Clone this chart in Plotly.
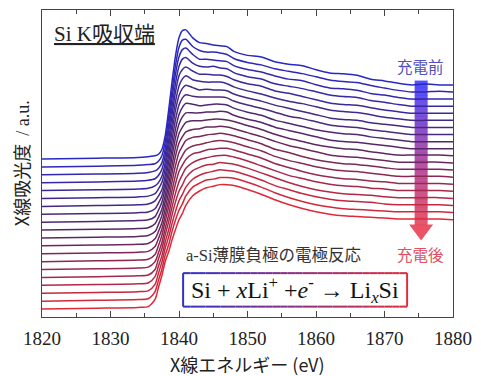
import plotly.graph_objects as go

# ---------------- data ----------------
ENERGY = [1820, 1828, 1834, 1835.5, 1836.5, 1837, 1837.5, 1838, 1838.5, 1839, 1839.5,
          1840, 1840.5, 1841, 1842, 1843, 1844, 1845, 1846, 1847, 1848, 1850, 1852,
          1854, 1856, 1858, 1860, 1862, 1864, 1866, 1868, 1870, 1872, 1874, 1876,
          1878, 1880]

# normalized absorbance of each spectrum, top (before charge) to bottom (after charge)
S00 = [0.00,0.01,0.02,0.03,0.04,0.06,0.12,0.30,0.62,0.98,1.30,1.52,1.61,1.62,1.52,1.46,1.45,1.43,1.42,1.41,1.35,1.30,1.28,1.22,1.19,1.17,1.12,1.08,1.07,1.05,1.00,0.98,0.95,0.93,0.94,0.93,0.93]
S01 = [0.00,0.01,0.02,0.03,0.04,0.07,0.14,0.32,0.63,0.97,1.28,1.50,1.59,1.60,1.51,1.46,1.44,1.44,1.43,1.41,1.36,1.31,1.28,1.23,1.20,1.17,1.13,1.09,1.07,1.06,1.02,0.99,0.96,0.94,0.94,0.95,0.94]
S02 = [0.00,0.01,0.02,0.03,0.05,0.08,0.15,0.33,0.63,0.97,1.27,1.48,1.57,1.59,1.51,1.45,1.45,1.44,1.43,1.42,1.37,1.32,1.29,1.24,1.20,1.18,1.13,1.09,1.08,1.06,1.02,1.00,0.97,0.95,0.95,0.95,0.95]
S03 = [0.00,0.01,0.02,0.03,0.05,0.09,0.17,0.35,0.64,0.96,1.25,1.46,1.55,1.57,1.50,1.46,1.45,1.46,1.44,1.43,1.38,1.33,1.30,1.24,1.21,1.18,1.14,1.10,1.08,1.07,1.03,1.01,0.98,0.96,0.96,0.96,0.96]
S04 = [0.00,0.01,0.02,0.03,0.06,0.10,0.18,0.36,0.64,0.96,1.24,1.44,1.52,1.55,1.50,1.46,1.46,1.45,1.45,1.43,1.39,1.34,1.31,1.25,1.22,1.18,1.14,1.10,1.08,1.07,1.04,1.01,0.99,0.97,0.97,0.97,0.97]
S05 = [0.00,0.01,0.02,0.03,0.06,0.12,0.20,0.38,0.65,0.95,1.22,1.41,1.50,1.54,1.49,1.47,1.46,1.46,1.46,1.44,1.40,1.35,1.31,1.26,1.22,1.19,1.15,1.11,1.09,1.08,1.05,1.02,1.00,0.98,0.98,0.98,0.98]
S06 = [0.00,0.01,0.02,0.03,0.07,0.13,0.21,0.39,0.65,0.95,1.21,1.39,1.48,1.52,1.49,1.46,1.47,1.46,1.46,1.45,1.41,1.36,1.32,1.27,1.23,1.19,1.15,1.11,1.09,1.08,1.05,1.03,1.01,0.99,0.99,0.99,0.99]
S07 = [0.00,0.01,0.02,0.03,0.07,0.14,0.23,0.41,0.66,0.94,1.19,1.37,1.46,1.50,1.48,1.47,1.47,1.47,1.47,1.46,1.42,1.37,1.33,1.28,1.23,1.20,1.16,1.12,1.10,1.09,1.06,1.04,1.02,1.00,1.00,1.00,1.00]
S08 = [0.00,0.01,0.02,0.03,0.07,0.15,0.25,0.43,0.66,0.93,1.17,1.35,1.44,1.49,1.48,1.46,1.47,1.48,1.48,1.47,1.43,1.38,1.34,1.28,1.24,1.20,1.16,1.13,1.11,1.10,1.07,1.05,1.03,1.01,1.01,1.01,1.01]
S09 = [0.00,0.01,0.02,0.03,0.08,0.16,0.26,0.44,0.67,0.93,1.16,1.33,1.42,1.47,1.47,1.47,1.48,1.48,1.49,1.48,1.44,1.39,1.35,1.29,1.25,1.21,1.17,1.13,1.11,1.10,1.08,1.06,1.04,1.02,1.02,1.02,1.02]
S10 = [0.00,0.01,0.02,0.03,0.08,0.17,0.28,0.46,0.67,0.92,1.14,1.31,1.39,1.45,1.47,1.47,1.48,1.49,1.49,1.48,1.46,1.41,1.36,1.30,1.25,1.21,1.17,1.14,1.12,1.11,1.08,1.06,1.04,1.04,1.04,1.04,1.03]
S11 = [0.00,0.01,0.02,0.03,0.09,0.18,0.29,0.47,0.68,0.92,1.13,1.29,1.37,1.43,1.46,1.47,1.49,1.49,1.50,1.49,1.47,1.42,1.37,1.31,1.26,1.22,1.18,1.14,1.12,1.11,1.09,1.07,1.05,1.05,1.05,1.05,1.04]
S12 = [0.00,0.01,0.02,0.03,0.09,0.19,0.31,0.49,0.68,0.91,1.11,1.27,1.35,1.42,1.46,1.47,1.49,1.50,1.51,1.50,1.48,1.43,1.38,1.31,1.27,1.22,1.18,1.15,1.13,1.12,1.10,1.08,1.06,1.06,1.06,1.06,1.05]
S13 = [0.00,0.01,0.02,0.03,0.09,0.20,0.33,0.51,0.69,0.90,1.09,1.25,1.33,1.40,1.45,1.47,1.49,1.51,1.52,1.51,1.49,1.44,1.39,1.32,1.27,1.23,1.19,1.16,1.14,1.13,1.11,1.09,1.07,1.07,1.07,1.07,1.06]
S14 = [0.00,0.01,0.02,0.03,0.10,0.21,0.34,0.52,0.69,0.90,1.08,1.23,1.31,1.38,1.45,1.47,1.50,1.51,1.52,1.52,1.50,1.45,1.40,1.33,1.28,1.23,1.19,1.16,1.14,1.13,1.11,1.10,1.08,1.08,1.08,1.08,1.07]
S15 = [0.00,0.01,0.02,0.03,0.10,0.23,0.36,0.54,0.70,0.89,1.06,1.20,1.29,1.37,1.44,1.48,1.50,1.52,1.53,1.53,1.51,1.46,1.40,1.34,1.28,1.24,1.20,1.17,1.15,1.14,1.12,1.11,1.09,1.09,1.09,1.09,1.08]
S16 = [0.00,0.01,0.02,0.03,0.11,0.24,0.37,0.55,0.70,0.89,1.05,1.18,1.26,1.35,1.44,1.48,1.51,1.52,1.54,1.53,1.52,1.47,1.41,1.35,1.29,1.24,1.20,1.17,1.15,1.14,1.13,1.11,1.10,1.10,1.10,1.10,1.09]
S17 = [0.00,0.01,0.02,0.03,0.11,0.25,0.39,0.57,0.71,0.88,1.03,1.16,1.24,1.33,1.43,1.48,1.51,1.53,1.55,1.54,1.53,1.48,1.42,1.35,1.30,1.25,1.21,1.18,1.16,1.15,1.14,1.12,1.11,1.11,1.11,1.11,1.10]
S18 = [0.00,0.01,0.02,0.03,0.12,0.26,0.40,0.58,0.71,0.88,1.02,1.14,1.22,1.32,1.43,1.48,1.52,1.53,1.55,1.55,1.54,1.49,1.43,1.36,1.30,1.25,1.21,1.18,1.16,1.15,1.14,1.13,1.12,1.12,1.12,1.12,1.11]
S19 = [0.00,0.01,0.02,0.03,0.12,0.27,0.42,0.60,0.72,0.87,1.00,1.12,1.20,1.30,1.42,1.48,1.52,1.54,1.56,1.56,1.55,1.50,1.44,1.37,1.31,1.26,1.22,1.19,1.17,1.16,1.15,1.14,1.13,1.13,1.13,1.13,1.12]

SPECTRA = [S00, S01, S02, S03, S04, S05, S06, S07, S08, S09,
           S10, S11, S12, S13, S14, S15, S16, S17, S18, S19]

X_TICKS = [1820, 1830, 1840, 1850, 1860, 1870, 1880]
X_TITLE = "X線エネルギー (eV)"
Y_TITLE = "X線吸光度  <span style='font-family:Liberation Serif'>/ a.u.</span>"
EDGE_LABEL = "Si K吸収端"
BEFORE_LABEL = "充電前"
AFTER_LABEL = "充電後"
REACTION_LABEL = "a-Si薄膜負極の電極反応"
EQUATION = "Si + <i>x</i>Li<sup>+</sup> +<i>e</i><sup>-</sup> → Li<sub><i>x</i></sub>Si"

# ---------------- styling ----------------
OFFSET_STEP = 0.099
N = len(SPECTRA)


def lerp(c1, c2, f):
    return tuple(round(a + (b - a) * f) for a, b in zip(c1, c2))


def grad3(f, c_top, c_mid, c_bot):
    if f <= 0.5:
        return lerp(c_top, c_mid, f / 0.5)
    return lerp(c_mid, c_bot, (f - 0.5) / 0.5)


BLUE = (40, 40, 195)
MID = (85, 40, 100)
RED = (225, 40, 55)

fig = go.Figure()
for i, vals in enumerate(SPECTRA):
    off = (N - 1 - i) * OFFSET_STEP
    c = grad3(i / (N - 1), BLUE, MID, RED)
    fig.add_trace(go.Scatter(
        x=ENERGY, y=[v + off for v in vals], mode="lines",
        line=dict(color="rgb(%d,%d,%d)" % c, width=1.5, shape="spline", smoothing=0.7),
        showlegend=False, hoverinfo="skip"))

shapes = []
# gradient arrow
ax0, ax1 = 1874.4, 1876.3
ay_top, ay_head = 2.86, 1.05
nseg = 40
for k in range(nseg):
    f = k / nseg
    y1 = ay_top - (ay_top - ay_head) * f
    y0 = ay_top - (ay_top - ay_head) * (k + 1) / nseg
    c = grad3(f, (50, 50, 255), (160, 50, 160), (225, 60, 80))
    shapes.append(dict(type="rect", xref="x", yref="y", x0=ax0, x1=ax1, y0=y0, y1=y1 + 0.005,
                       fillcolor="rgba(%d,%d,%d,0.85)" % c, line=dict(width=0), layer="below"))
shapes.append(dict(type="path", xref="x", yref="y",
                   path="M 1873.6 1.06 L 1877.1 1.06 L 1875.35 0.86 Z",
                   fillcolor="rgba(232,64,82,0.9)", line=dict(width=0), layer="below"))

# equation box with gradient border
bx0, bx1, by0, by1 = 1840.6, 1873.3, 0.03, 0.45
shapes.append(dict(type="rect", xref="x", yref="y", x0=bx0, x1=bx1, y0=by0, y1=by1,
                   fillcolor="white", line=dict(width=0)))
nb = 30
for k in range(nb):
    xa = bx0 + (bx1 - bx0) * k / nb
    xb = bx0 + (bx1 - bx0) * (k + 1) / nb
    c = lerp((50, 50, 200), (225, 45, 60), (k + 0.5) / nb)
    for yy in (by0, by1):
        shapes.append(dict(type="line", xref="x", yref="y", x0=xa, x1=xb, y0=yy, y1=yy,
                           line=dict(color="rgb(%d,%d,%d)" % c, width=2)))
shapes.append(dict(type="line", xref="x", yref="y", x0=bx0, x1=bx0, y0=by0, y1=by1,
                   line=dict(color="rgb(50,50,200)", width=2)))
shapes.append(dict(type="line", xref="x", yref="y", x0=bx1, x1=bx1, y0=by0, y1=by1,
                   line=dict(color="rgb(225,45,60)", width=2)))

CJK = "Noto Sans CJK JP"
SERIF = "Liberation Serif"

annotations = [
    dict(x=1829.1, y=3.45, xref="x", yref="y", text="<u>" + EDGE_LABEL + "</u>", showarrow=False,
         font=dict(family=SERIF + ", " + CJK, size=21, color="#222")),
    dict(x=1875.3, y=3.05, xref="x", yref="y", text=BEFORE_LABEL, showarrow=False,
         font=dict(family=CJK, size=15.5, color="rgb(80,80,190)")),
    dict(x=1875.3, y=0.69, xref="x", yref="y", text=AFTER_LABEL, showarrow=False,
         font=dict(family=CJK, size=15.5, color="rgb(225,80,95)")),
    dict(x=1853.8, y=0.675, xref="x", yref="y", text=REACTION_LABEL, showarrow=False,
         font=dict(family=SERIF + ", " + CJK, size=16.5, color="#333")),
    dict(x=1856.9, y=0.24, xref="x", yref="y", text=EQUATION, showarrow=False,
         font=dict(family=SERIF, size=24, color="#111")),
    dict(x=0.5, y=-0.153, xref="paper", yref="paper", text=X_TITLE, showarrow=False,
         font=dict(family=CJK, size=18, color="#222"), yanchor="middle"),
    dict(x=-0.052, y=0.5, xref="paper", yref="paper", text=Y_TITLE, showarrow=False,
         textangle=-90, font=dict(family=CJK, size=18, color="#222"), xanchor="center"),
]

fig.update_layout(
    width=481, height=376,
    margin=dict(l=42, r=22, t=9, b=59),
    paper_bgcolor="white", plot_bgcolor="white",
    shapes=shapes, annotations=annotations,
    xaxis=dict(range=[1820, 1880], tickmode="array", tickvals=X_TICKS,
               ticktext=[str(v) for v in X_TICKS],
               ticks="inside", ticklen=6, tickwidth=1, tickcolor="#444",
               minor=dict(ticks="inside", dtick=5, ticklen=4, tickcolor="#444"),
               showline=True, linecolor="#444", linewidth=1.2, mirror="ticks",
               showgrid=False, zeroline=False,
               tickfont=dict(family=SERIF, size=19, color="#222"), ticklabelstandoff=4),
    yaxis=dict(range=[-0.1, 3.75], showticklabels=False, ticks="",
               showline=True, linecolor="#444", linewidth=1.2, mirror=True,
               showgrid=False, zeroline=False),
)

fig.write_html("out.html", config={"displayModeBar": False},
               post_script="document.body.style.margin='0px';")
